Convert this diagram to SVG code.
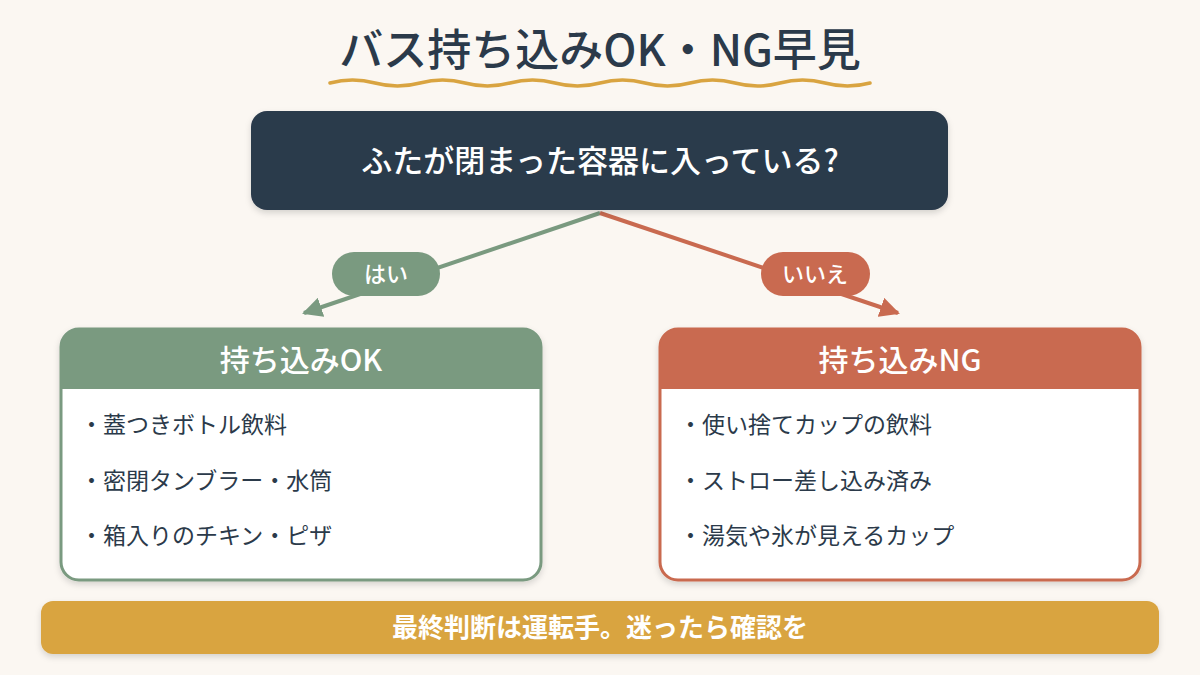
<svg xmlns="http://www.w3.org/2000/svg" width="1200" height="675" viewBox="0 0 1200 675">
<defs>
<style>
text{font-family:"Noto Sans CJK JP","Noto Sans",sans-serif}
.title{font-size:44px;font-weight:500;fill:#2B3A4A;text-anchor:middle}
.q{font-size:31px;font-weight:500;fill:#FFFFFF;text-anchor:middle}
.pill{font-size:22px;font-weight:500;fill:#FFFFFF;text-anchor:middle}
.head{font-size:30px;font-weight:500;fill:#FFFFFF;text-anchor:middle}
.item{font-size:23px;fill:#2B3A4A}
.banner{font-size:26px;font-weight:700;fill:#FFFFFF;text-anchor:middle}
</style>
<marker id="ag" viewBox="0 0 10 10" refX="9" refY="5" markerWidth="5" markerHeight="5" orient="auto"><path d="M0,0 L10,5 L0,10 z" fill="#7A9A80"/></marker>
<marker id="ar" viewBox="0 0 10 10" refX="9" refY="5" markerWidth="5" markerHeight="5" orient="auto"><path d="M0,0 L10,5 L0,10 z" fill="#C96A50"/></marker>
<filter id="sh" x="-5%" y="-10%" width="110%" height="130%"><feDropShadow dx="0" dy="3" stdDeviation="3" flood-color="#000" flood-opacity="0.15"/></filter>
</defs>
<rect width="1200" height="675" fill="#FBF7F2"/>
<g id="title">
<text class="title" x="600" y="66">バス持ち込みOK・NG早見</text>
<path d="M330,83 q22.5,-6 45,0 t45,0 t45,0 t45,0 t45,0 t45,0 t45,0 t45,0 t45,0 t45,0 t45,0 t45,0" fill="none" stroke="#D9A441" stroke-width="3.5" stroke-linecap="round"/>
</g>
<g id="connectors">
<line x1="600" y1="213" x2="304" y2="313" stroke="#7A9A80" stroke-width="4" marker-end="url(#ag)"/>
<line x1="600" y1="213" x2="898" y2="313" stroke="#C96A50" stroke-width="4" marker-end="url(#ar)"/>
</g>
<g id="question">
<rect x="251" y="111" width="697" height="99" rx="16" fill="#2B3A4C" filter="url(#sh)"/>
<text class="q" x="600" y="172">ふたが閉まった容器に入っている?</text>
</g>
<g id="label-yes">
<rect x="332" y="252" width="108" height="44" rx="22" fill="#7A9A80"/>
<text class="pill" x="386" y="282">はい</text>
</g>
<g id="label-no">
<rect x="761" y="252" width="109" height="44" rx="22" fill="#C96A50"/>
<text class="pill" x="815" y="282">いいえ</text>
</g>
<g id="card-ok">
<rect x="61" y="329" width="480" height="251" rx="18" fill="#FFFFFF" stroke="#7A9A80" stroke-width="3" filter="url(#sh)"/>
<path d="M61,389 V347 a18,18 0 0 1 18,-18 H523 a18,18 0 0 1 18,18 V389 z" fill="#7A9A80"/>
<text class="head" x="301" y="371">持ち込みOK</text>
<text class="item" x="80" y="433">・蓋つきボトル飲料</text>
<text class="item" x="80" y="489">・密閉タンブラー・水筒</text>
<text class="item" x="80" y="544">・箱入りのチキン・ピザ</text>
</g>
<g id="card-ng">
<rect x="660" y="329" width="480" height="251" rx="18" fill="#FFFFFF" stroke="#C96A50" stroke-width="3" filter="url(#sh)"/>
<path d="M660,389 V347 a18,18 0 0 1 18,-18 H1122 a18,18 0 0 1 18,18 V389 z" fill="#C96A50"/>
<text class="head" x="900" y="371">持ち込みNG</text>
<text class="item" x="679" y="433">・使い捨てカップの飲料</text>
<text class="item" x="679" y="489">・ストロー差し込み済み</text>
<text class="item" x="679" y="544">・湯気や氷が見えるカップ</text>
</g>
<g id="banner">
<rect x="41" y="601" width="1118" height="53" rx="12" fill="#D9A441" filter="url(#sh)"/>
<text class="banner" x="600" y="637">最終判断は運転手。迷ったら確認を</text>
</g>
</svg>
